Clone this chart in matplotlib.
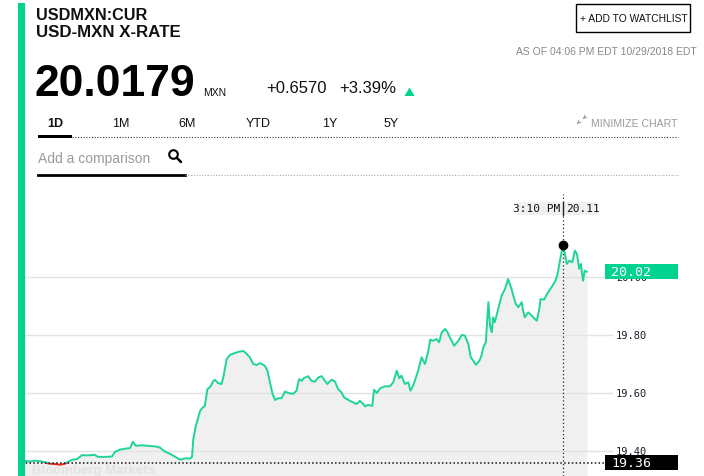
import numpy as np
import matplotlib
matplotlib.use("Agg")
import matplotlib.pyplot as plt
import matplotlib.transforms as mtransforms
from matplotlib.patches import Rectangle, Polygon, Circle

# USD/MXN intraday, minutes after 18:00 (session open) and rate
minutes = [0, 14, 26, 37, 49, 61, 68, 84, 96, 107, 114, 124, 135, 147, 161, 177, 184,
           201, 217, 224, 236, 247, 259, 266, 273, 287, 301, 318, 329, 341, 353, 364,
           376, 388, 399, 404, 407, 413, 423, 429, 434, 440, 446, 454, 458, 465, 473,
           477, 485, 493, 504, 512, 524, 532, 539, 547, 555, 563, 574, 580, 586, 592,
           598, 605, 613, 621, 629, 640, 648, 654, 660, 665, 675, 683, 691, 699, 707,
           714, 720, 730, 738, 745, 753, 759, 766, 773, 780, 788, 796, 804, 808, 815,
           825, 829, 836, 843, 854, 866, 874, 882, 888, 893, 901, 909, 914, 921, 932,
           940, 948, 956, 960, 967, 975, 981, 987, 995, 1000, 1006, 1016, 1026, 1034,
           1041, 1049, 1055, 1061, 1067, 1075, 1080, 1084, 1090, 1094, 1096, 1100, 1104,
           1107, 1111, 1115, 1121, 1127, 1135, 1142, 1150, 1154, 1160, 1166, 1174, 1177,
           1181, 1189, 1197, 1209, 1215, 1218, 1226, 1233, 1241, 1251, 1257, 1261, 1267,
           1270, 1275, 1279, 1285, 1292, 1298, 1303, 1308, 1312, 1317, 1321, 1326]
rate = [19.365, 19.366, 19.364, 19.367, 19.365, 19.362, 19.357, 19.355, 19.353, 19.356,
        19.362, 19.370, 19.372, 19.386, 19.385, 19.387, 19.380, 19.380, 19.381, 19.397,
        19.405, 19.408, 19.410, 19.432, 19.418, 19.420, 19.418, 19.416, 19.412, 19.398,
        19.390, 19.381, 19.370, 19.375, 19.374, 19.380, 19.441, 19.487, 19.539, 19.550,
        19.556, 19.614, 19.620, 19.642, 19.645, 19.634, 19.631, 19.654, 19.717, 19.732,
        19.738, 19.742, 19.745, 19.734, 19.723, 19.700, 19.697, 19.703, 19.694, 19.677,
        19.637, 19.597, 19.576, 19.582, 19.582, 19.605, 19.600, 19.597, 19.608, 19.648,
        19.642, 19.651, 19.658, 19.642, 19.639, 19.654, 19.658, 19.642, 19.631, 19.646,
        19.639, 19.614, 19.602, 19.585, 19.579, 19.573, 19.568, 19.562, 19.573, 19.562,
        19.554, 19.559, 19.556, 19.611, 19.600, 19.616, 19.623, 19.623, 19.637, 19.677,
        19.651, 19.660, 19.631, 19.637, 19.608, 19.628, 19.677, 19.723, 19.700, 19.746,
        19.784, 19.780, 19.786, 19.775, 19.809, 19.821, 19.811, 19.792, 19.763, 19.780,
        19.800, 19.798, 19.769, 19.723, 19.711, 19.697, 19.711, 19.729, 19.757, 19.775,
        19.867, 19.913, 19.832, 19.809, 19.861, 19.844, 19.867, 19.901, 19.936, 19.959,
        19.993, 19.959, 19.936, 19.907, 19.896, 19.913, 19.884, 19.861, 19.878, 19.867,
        19.849, 19.890, 19.924, 19.922, 19.941, 19.959, 19.982, 20.005, 20.039, 20.085,
        20.110, 20.079, 20.045, 20.056, 20.051, 20.091, 20.079, 20.028, 20.045, 19.987,
        20.022, 20.018]

prev_close = 19.36
last_label = 20.02
hover_min, hover_val, hover_time = 1270, 20.11, "3:10 PM"
grid_levels = [19.40, 19.60, 19.80, 20.00]

GREEN = "#00d28f"
LINE_GREEN = "#1dd49b"
W, H = 704, 477

fig = plt.figure(figsize=(W / 100, H / 100), dpi=100)

# ---- price chart ----
ax = fig.add_axes([19 / W, 0, 591 / W, 282 / H])
ax.set_xlim(0, 1380)
ax.set_ylim(19.314, 20.286)
ax.axis("off")

for g in grid_levels:
    ax.axhline(g, xmin=0, xmax=1.0034, color="#e3e3e3", lw=1, zorder=1, clip_on=False)

ax.fill_between(minutes, rate, 19.314, color="#f0f0f0", lw=0, zorder=0)

up, = ax.plot(minutes, rate, color=LINE_GREEN, lw=1.4, zorder=3)
dn, = ax.plot(minutes, rate, color="#e0261b", lw=1.4, zorder=3)
up.set_clip_path(Rectangle((0, prev_close), 1380, 2, transform=ax.transData))
dn.set_clip_path(Rectangle((0, prev_close - 2), 1380, 2, transform=ax.transData))

# previous close and crosshair
ax.axhline(prev_close, xmin=-0.002, xmax=0.9915, color="#111", lw=1.1,
           ls=(0, (1, 1.5)), zorder=4, clip_on=False)
ax.axvline(hover_min, color="#222", lw=0.9, ls=(0, (1, 2)), zorder=4)
ax.plot([hover_min], [hover_val], "o", color="black", ms=6, zorder=6)

mono = "DejaVu Sans Mono"
blend = mtransforms.blended_transform_factory(ax.transAxes, ax.transData)
for g in grid_levels:
    ax.text(1.0102, g, f"{g:.2f}", transform=blend, ha="left", va="center",
            fontsize=7.5, family=mono, color="#1c1c2c", clip_on=False)

# value boxes on the right edge
for val, face in [(last_label, GREEN), (prev_close, "black")]:
    ax.add_patch(Rectangle((0.9915, val - 0.026), 0.1235, 0.052, transform=blend,
                           facecolor=face, lw=0, zorder=7, clip_on=False))
    ax.text(1.002, val, f"{val:.2f}", transform=blend, ha="left", va="center",
            fontsize=9.5, family=mono, color="white", zorder=8, clip_on=False)

# hover tooltip
ax.add_patch(Rectangle((1163, hover_val + 0.105), 189, 0.045, facecolor="#f0f0f0",
                       lw=0, zorder=5, clip_on=False))
ax.plot([hover_min, hover_min], [hover_val + 0.105, hover_val + 0.150], color="#222",
        lw=1, zorder=6, clip_on=False)
ax.text(hover_min - 7, hover_val + 0.127, hover_time, ha="right", va="center",
        fontsize=8, family=mono, color="#111", zorder=6)
ax.text(hover_min + 8, hover_val + 0.127, f"{hover_val:.2f}", ha="left", va="center",
        fontsize=8, family=mono, color="#111", zorder=6)

# ---- page header, pixel coordinates ----
hud = fig.add_axes([0, 0, 1, 1])
hud.set_xlim(0, W)
hud.set_ylim(H, 0)
hud.axis("off")
hud.patch.set_alpha(0)

sans = "Liberation Sans"
hud.add_patch(Rectangle((18, 4), 7, 473, facecolor=GREEN, lw=0))

# faint site watermark along the bottom edge
hud.text(32, 474, "Bloomberg Markets", fontsize=9.5, family=sans, weight="bold",
         color="#e2e2e2")

hud.text(36, 19.5, "USDMXN:CUR", fontsize=11.7, family=sans, weight="bold", color="#111")
hud.text(36, 37, "USD-MXN X-RATE", fontsize=12.2, family=sans, weight="bold", color="#111")
hud.text(34, 95.5, "20.0179", fontsize=32, family=sans, weight="bold", color="black")
hud.text(203, 95.5, "MXN", fontsize=7.5, family=sans, color="#111")
hud.text(266, 93, "+0.6570", fontsize=12, family=sans, color="#111")
hud.text(339, 93, "+3.39%", fontsize=12, family=sans, color="#111")
hud.add_patch(Polygon([(404.5, 97), (414.5, 97), (409.5, 88.5)], facecolor=GREEN, lw=0))

tabs = ["1D", "1M", "6M", "YTD", "1Y", "5Y"]
tab_x = [47, 112, 178, 246, 322, 384]
for t, x in zip(tabs, tab_x):
    hud.text(x, 127, t, fontsize=9, family=sans, color="#111",
             weight="bold" if t == "1D" else "normal")
hud.add_patch(Rectangle((38, 135.5), 34, 3, facecolor="black", lw=0))
hud.plot([72, 678], [137.5, 137.5], color="#333", lw=0.8, ls=(0, (1, 1.5)))

hud.text(591, 127, "MINIMIZE CHART", fontsize=7.6, family=sans, color="#999")
hud.annotate("", xy=(575, 127), xytext=(579.5, 122.5),
             arrowprops=dict(arrowstyle="->", color="#999", lw=0.8, mutation_scale=5))
hud.annotate("", xy=(585.5, 117.5), xytext=(581, 122),
             arrowprops=dict(arrowstyle="<-", color="#999", lw=0.8, mutation_scale=5))

hud.text(38, 163.5, "Add a comparison", fontsize=10, family=sans, color="#9a9a9a")
hud.add_patch(Circle((173.5, 155.5), 4.3, facecolor="none", edgecolor="black", lw=1.5))
hud.plot([176.8, 181], [158.8, 163], color="black", lw=1.8, solid_capstyle="round")
hud.plot([38, 185], [175.5, 175.5], color="black", lw=2)
hud.plot([185, 678], [175.5, 175.5], color="#aaa", lw=0.8, ls=(0, (1, 1.5)))

hud.add_patch(Rectangle((576, 4.5), 114, 28.5, facecolor="white", edgecolor="black", lw=1))
hud.text(634, 19, "+ ADD TO WATCHLIST", fontsize=7.4, family=sans, color="#111",
         ha="center", va="center")
hud.text(697, 55, "AS OF 04:06 PM EDT 10/29/2018 EDT", fontsize=7.5, family=sans,
         color="#888", ha="right")

fig.savefig("out.png", dpi=100)
